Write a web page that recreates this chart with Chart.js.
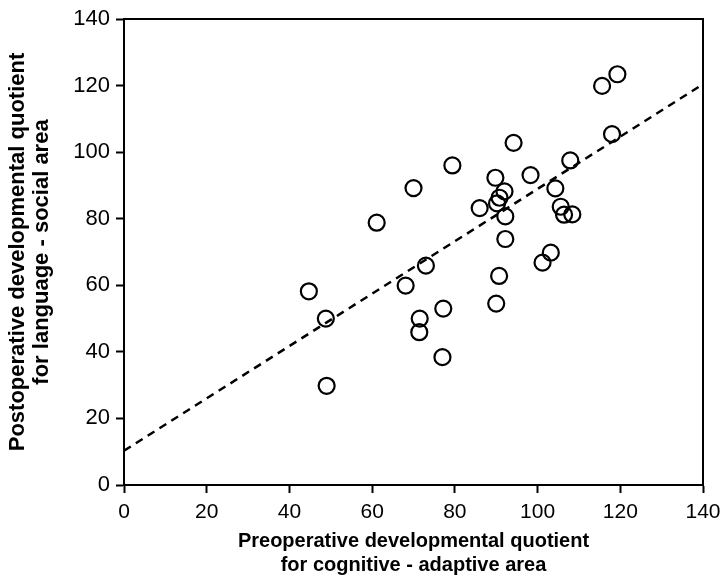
<!DOCTYPE html>
<html>
<head>
<meta charset="utf-8">
<script src="https://cdn.jsdelivr.net/npm/chart.js@4/dist/chart.umd.min.js"></script>
<style>
  html, body { margin: 0; padding: 0; background: #fff; }
  #wrap { width: 721px; height: 577px; }
</style>
</head>
<body>
<div id="wrap"><canvas id="c" width="721" height="577"></canvas></div>
<script>
// Preoperative DQ (cognitive-adaptive) values
const preopX = [44.7, 48.8, 49.0, 61.1, 68.1, 70.0, 71.5, 71.4, 73.0, 77.2, 77.0, 79.4,
  86.0, 89.8, 92.0, 90.8, 90.2, 92.2, 92.2, 90.7, 90.0, 94.2, 98.3, 104.3, 105.6, 106.4,
  108.4, 103.2, 101.2, 107.9, 118.0, 115.6, 119.3];
// Postoperative DQ (language-social) values
const postopY = [58.2, 50.0, 29.8, 78.8, 59.9, 89.2, 50.0, 45.9, 65.9, 53.0, 38.4, 96.0,
  83.2, 92.3, 88.2, 86.3, 84.6, 80.7, 73.9, 62.8, 54.5, 102.8, 93.1, 89.1, 83.6, 81.2,
  81.3, 69.8, 66.8, 97.5, 105.4, 119.9, 123.4];
// Regression line end points
const fitX = [0, 140];
const fitY = [10.3, 120.4];
// Axis ticks
const xTicks = [0, 20, 40, 60, 80, 100, 120, 140];
const yTicks = [0, 20, 40, 60, 80, 100, 120, 140];
const xTitle = ['Preoperative developmental quotient', 'for cognitive - adaptive area'];
const yTitle = ['Postoperative developmental quotient', 'for language - social area'];

const scatterData = preopX.map((x, i) => ({ x: x, y: postopY[i] }));
const fitData = fitX.map((x, i) => ({ x: x, y: fitY[i] }));

const FONT = '"Liberation Sans", Arial, Helvetica, sans-serif';

const frame = {
  id: 'frame',
  afterDatasetsDraw(chart) {
    const a = chart.chartArea, ctx = chart.ctx;
    ctx.save();
    ctx.strokeStyle = '#000';
    ctx.lineWidth = 2;
    ctx.strokeRect(a.left, a.top, a.right - a.left, a.bottom - a.top);
    ctx.restore();
  }
};

new Chart(document.getElementById('c'), {
  type: 'scatter',
  data: {
    datasets: [
      {
        label: 'patients',
        data: scatterData,
        pointStyle: 'circle',
        pointRadius: 8,
        pointHoverRadius: 8,
        pointBorderWidth: 2.2,
        pointBorderColor: '#000',
        pointBackgroundColor: 'rgba(0,0,0,0)',
        showLine: false
      },
      {
        label: 'fit',
        type: 'line',
        data: fitData,
        borderColor: '#000',
        borderWidth: 2.5,
        borderDash: [8, 6],
        pointRadius: 0,
        fill: false
      }
    ]
  },
  options: {
    responsive: false,
    animation: false,
    devicePixelRatio: 1,
    layout: { padding: { top: 19, right: 0, left: 0, bottom: 0 } },
    plugins: { legend: { display: false }, tooltip: { enabled: false } },
    scales: {
      x: {
        type: 'linear',
        min: 0, max: 140,
        afterFit(s) { s.height = 92; s.paddingRight = 18; },
        afterBuildTicks(s) { s.ticks = xTicks.map(v => ({ value: v })); },
        border: { display: true, color: '#000', width: 2 },
        grid: { display: true, drawOnChartArea: false, drawTicks: true, tickLength: 8, tickWidth: 2, tickColor: '#000' },
        ticks: { color: '#000', padding: 7, font: { family: FONT, size: 21, lineHeight: 1.15 }, maxRotation: 0 },
        title: {
          display: true, text: xTitle, color: '#000',
          font: { family: FONT, size: 20, weight: 'bold', lineHeight: 1.2 },
          padding: { top: 0, bottom: 0 }
        }
      },
      y: {
        type: 'linear',
        min: 0, max: 140,
        afterFit(s) { s.width = 124; },
        afterBuildTicks(s) { s.ticks = yTicks.map(v => ({ value: v })); },
        border: { display: true, color: '#000', width: 2 },
        grid: { display: true, drawOnChartArea: false, drawTicks: true, tickLength: 8, tickWidth: 2, tickColor: '#000' },
        ticks: { color: '#000', padding: 6, font: { family: FONT, size: 22, lineHeight: 1.1 } },
        title: {
          display: true, text: yTitle, color: '#000',
          font: { family: FONT, size: 22, weight: 'bold', lineHeight: 1.09 },
          padding: { top: 6, bottom: 0 }
        }
      }
    }
  },
  plugins: [frame]
});
</script>
</body>
</html>
